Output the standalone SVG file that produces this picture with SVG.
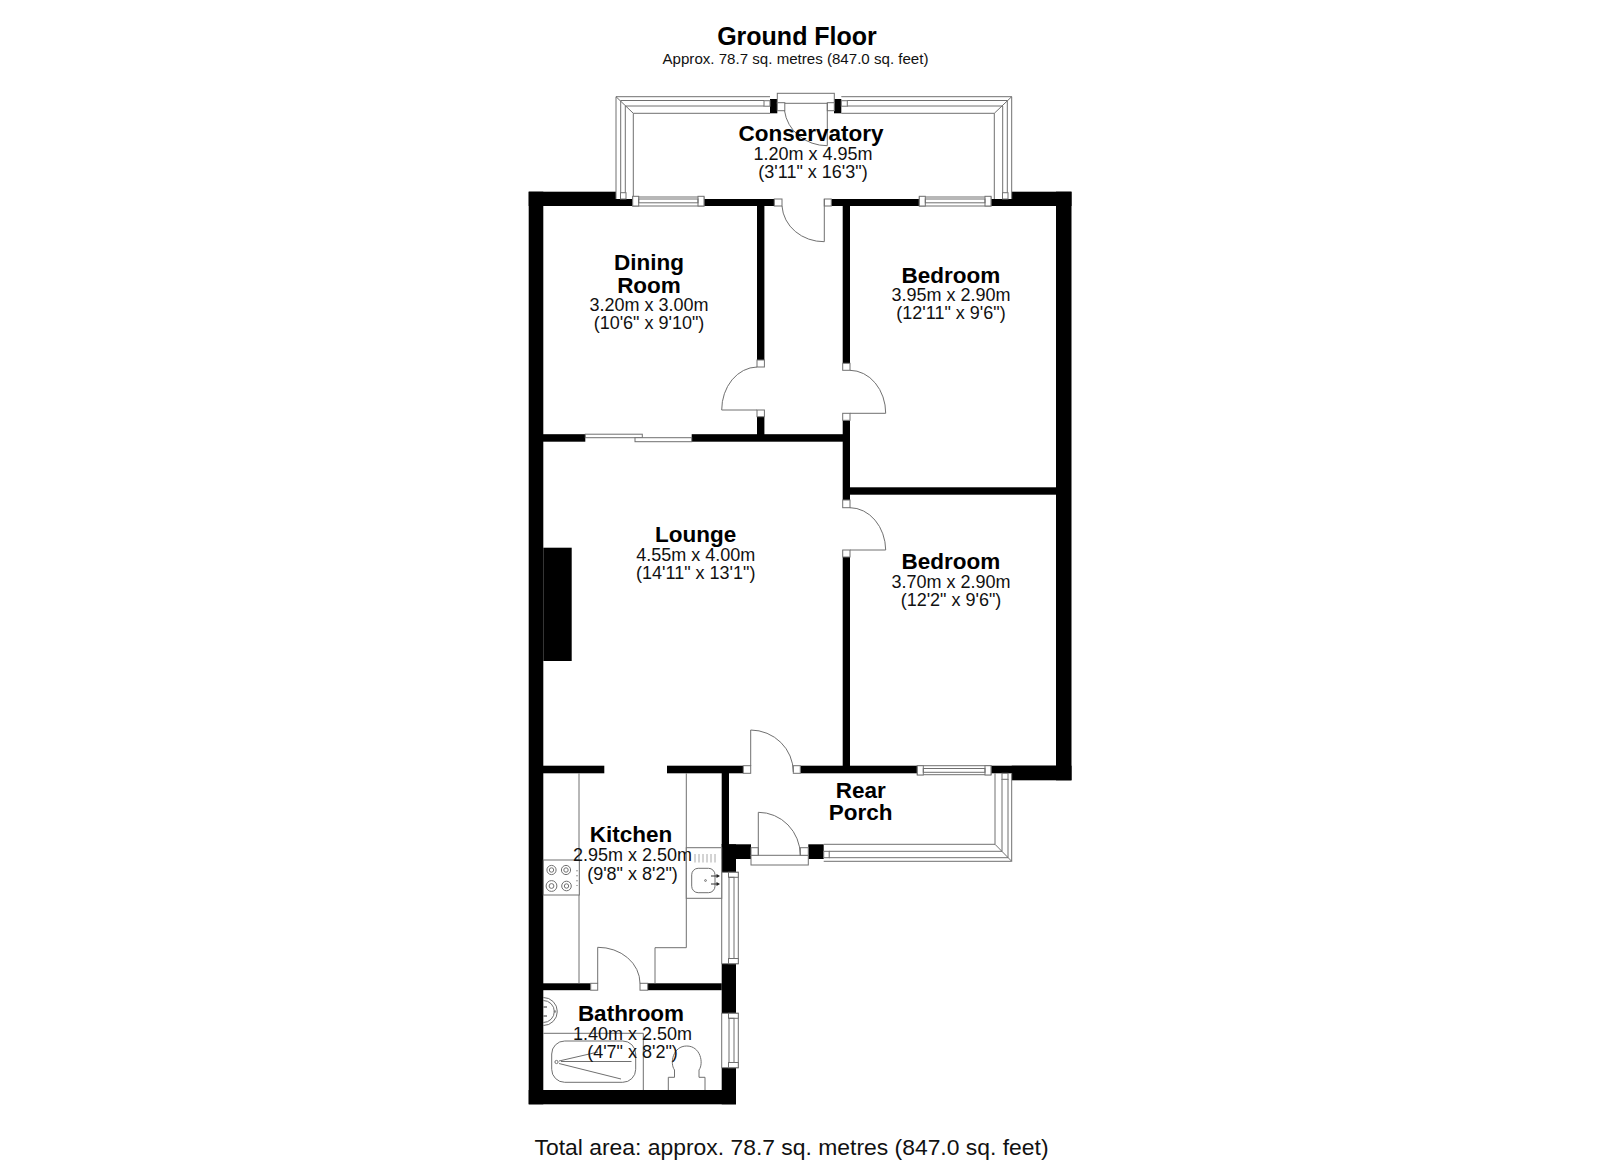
<svg xmlns="http://www.w3.org/2000/svg" width="1600" height="1163" viewBox="0 0 1600 1163">
<style>
text{font-family:"Liberation Sans",Arial,sans-serif;text-anchor:middle;fill:#111}
.n{font-size:22.5px;font-weight:bold;fill:#000}
.d{font-size:18px}
.w{fill:#000}
.l{fill:none;stroke:#707070;stroke-width:1}
.f{fill:#fff;stroke:#707070;stroke-width:1}
</style>
<rect width="1600" height="1163" fill="#fff"/>
<g id="walls">
<rect class="w" x="528.7" y="191.7" width="14.6" height="912.6"/>
<rect class="w" x="528.7" y="191.7" width="87.3" height="14.3"/>
<rect class="w" x="616" y="199" width="17" height="7"/>
<rect class="w" x="704" y="199" width="71" height="7"/>
<rect class="w" x="831.3" y="199" width="88" height="7"/>
<rect class="w" x="991" y="199" width="21" height="7"/>
<rect class="w" x="1011.7" y="191.7" width="59.8" height="14.3"/>
<rect class="w" x="1056" y="191.7" width="15.5" height="588.6"/>
<rect class="w" x="757" y="206" width="7.4" height="154"/>
<rect class="w" x="757" y="416.7" width="7.4" height="20"/>
<rect class="w" x="842.7" y="206" width="7.3" height="157.3"/>
<rect class="w" x="842.7" y="420.3" width="7.3" height="79.7"/>
<rect class="w" x="842.7" y="557" width="7.3" height="212"/>
<rect class="w" x="850" y="487.3" width="207" height="7.4"/>
<rect class="w" x="543" y="434.2" width="42.3" height="7.5"/>
<rect class="w" x="691.7" y="434.2" width="158.3" height="7.5"/>
<rect class="w" x="543.3" y="547.7" width="28.4" height="113.3"/>
<rect class="w" x="543" y="765.7" width="61.3" height="7.6"/>
<rect class="w" x="667" y="765.7" width="76.3" height="7.6"/>
<rect class="w" x="800.3" y="765.7" width="117" height="7.6"/>
<rect class="w" x="991" y="765.7" width="66" height="7.6"/>
<rect class="w" x="1011.7" y="765.7" width="59.8" height="14.6"/>
<rect class="w" x="721.7" y="773" width="7.3" height="72"/>
<rect class="w" x="721.7" y="844.3" width="29.3" height="14.7"/>
<rect class="w" x="721.7" y="844.3" width="14.3" height="28"/>
<rect class="w" x="808.3" y="844.3" width="15.4" height="14.7"/>
<rect class="w" x="721.7" y="963.7" width="14.3" height="49.6"/>
<rect class="w" x="721.7" y="1067.7" width="14.3" height="36.6"/>
<rect class="w" x="543" y="983.3" width="47.7" height="6.9"/>
<rect class="w" x="647.7" y="983.3" width="74" height="6.9"/>
<rect class="w" x="528.7" y="1090" width="207.3" height="14.3"/>
<rect class="w" x="770" y="99" width="7.3" height="14.3"/>
<rect class="w" x="834" y="99" width="7.3" height="14.3"/>
</g>
<g id="conservatory-glazing">
<path class="l" d="M616 199V96.7H770M633.3 199V113.3H770M616 96.7L633.3 113.3M620.7 193V100.5H764M625.3 193V106H764"/>
<rect class="f" x="620.5" y="192.7" width="5.5" height="6.3"/>
<rect class="f" x="764" y="100.7" width="6" height="5.5"/>
<path class="l" d="M1011.7 199V96.7H841.3M994.3 199V113.3H841.3M1011.7 96.7L994.3 113.3M1007.3 193V100.5H847M1002.7 193V106H847"/>
<rect class="f" x="1002.5" y="192.7" width="5.5" height="6.3"/>
<rect class="f" x="841.3" y="100.7" width="6" height="5.5"/>
</g>
<g id="porch-glazing">
<path class="l" d="M1011.7 773.3V861.3H823.7M995 773.3V844.3H823.7M1011.7 861.3L995 844.3M1008 779V857.7H829M1002 779V851.3H829"/>
<rect class="f" x="1002" y="773.3" width="6" height="6"/>
<rect class="f" x="823.7" y="851.3" width="5.5" height="6.4"/>
</g>
<g id="windows">
<rect class="f" x="632.7" y="197" width="71.3" height="9"/><rect class="f" x="632.7" y="196.3" width="6" height="9.7"/><rect class="f" x="698" y="196.3" width="6" height="9.7"/><rect class="l" x="638.7" y="199" width="59.3" height="3.8"/>
<rect class="f" x="919.3" y="197" width="71.7" height="9"/><rect class="f" x="919.3" y="196.3" width="6" height="9.7"/><rect class="f" x="985" y="196.3" width="6" height="9.7"/><rect class="l" x="925.3" y="199" width="59.7" height="3.8"/>
<rect class="f" x="917.3" y="765.7" width="73.7" height="9"/><rect class="f" x="917.3" y="765.7" width="6" height="9.3"/><rect class="f" x="985" y="765.7" width="6" height="9.3"/><rect class="l" x="923.3" y="768.5" width="61.7" height="3.8"/>
<rect class="f" x="721.7" y="872.3" width="16.6" height="91.4"/><rect class="f" x="728.5" y="872.3" width="9.8" height="5"/><rect class="f" x="728.5" y="958.5" width="9.8" height="5.2"/><rect class="l" x="729" y="877.3" width="5" height="81.2"/>
<rect class="f" x="721.7" y="1013.3" width="16.6" height="54.4"/><rect class="f" x="728.5" y="1013.3" width="9.8" height="5"/><rect class="f" x="728.5" y="1062.5" width="9.8" height="5.2"/><rect class="l" x="729" y="1018.3" width="5" height="44.2"/>
<rect class="f" x="585.3" y="434.2" width="57" height="3.5"/><rect class="f" x="635" y="437.7" width="56.7" height="4"/>
</g>
<g id="doors">
<rect class="f" x="777.3" y="93.3" width="57" height="10"/><rect class="f" x="777.3" y="102.7" width="7.5" height="8"/><rect class="f" x="827.3" y="102.7" width="7" height="8"/>
<path class="l" d="M827.3 103V145.7A43 40 0 0 1 784.5 110.7"/>
<rect class="f" x="774.3" y="199" width="7.7" height="7"/><rect class="f" x="824.3" y="199" width="7" height="7"/>
<path class="l" d="M824.3 199V241.7A42 38 0 0 1 782 206"/>
<rect class="f" x="757" y="360" width="7.4" height="7"/><rect class="f" x="757" y="410" width="7.4" height="6.7"/>
<path class="l" d="M757 410H721.7A36 43 0 0 1 757 367"/>
<rect class="f" x="842.7" y="363.3" width="7.3" height="7"/><rect class="f" x="842.7" y="413.3" width="7.3" height="7"/>
<path class="l" d="M850 413.3H885.7A36 43 0 0 0 850 370.3"/>
<rect class="f" x="842.7" y="500" width="7.3" height="7.7"/><rect class="f" x="842.7" y="550" width="7.3" height="7"/>
<path class="l" d="M850 550H885.7A36 43 0 0 0 850 507.7"/>
<rect class="f" x="743.3" y="765.7" width="7.4" height="7.6"/><rect class="f" x="793.3" y="765.7" width="7" height="7.6"/>
<path class="l" d="M750.7 766V730A43 42 0 0 1 793.3 772"/>
<rect class="f" x="751" y="855.3" width="57.3" height="9.7"/><rect class="f" x="751" y="847.7" width="7.3" height="7.6"/><rect class="f" x="800.3" y="847.7" width="8" height="7.6"/>
<path class="l" d="M758.3 855.3V812.3A42 43 0 0 1 800.3 855.3"/>
<rect class="f" x="590.7" y="983.3" width="7" height="6.9"/><rect class="f" x="640" y="983.3" width="7.7" height="6.9"/>
<path class="l" d="M597.7 983.3V947.3A42 36 0 0 1 640 983.3"/>
</g>
<g id="kitchen-fittings">
<path class="l" d="M579 773.3V983.3M686.3 773.3V947.7H655V983.3"/>
<rect class="f" x="543.3" y="860" width="36" height="35"/>
<circle class="l" cx="551.5" cy="870" r="4.6"/><circle class="l" cx="551.5" cy="870" r="2.2"/>
<circle class="l" cx="566" cy="870" r="4.6"/><circle class="l" cx="566" cy="870" r="2.2"/>
<circle class="l" cx="551.5" cy="886" r="5.4"/><circle class="l" cx="551.5" cy="886" r="2.4"/>
<circle class="l" cx="566.5" cy="886" r="4.8"/><circle class="l" cx="566.5" cy="886" r="2.2"/>
<path class="l" stroke-dasharray="1.4 3.6" d="M577 870V886"/>
<rect class="f" x="686.3" y="847.7" width="35.4" height="50.6"/>
<path class="l" d="M695 854V862.5M699 854V862.5M703 854V862.5M707 854V862.5M711 854V862.5M715 854V862.5" stroke-opacity="0.6"/>
<rect class="l" x="691.7" y="868.3" width="23.3" height="24.4" rx="6.5"/>
<circle class="l" cx="705.5" cy="880.5" r="0.9"/>
<path d="M711 876H717M711 884H717" stroke="#333" stroke-width="1.2" fill="none"/>
<path d="M720 876L716.5 874V878ZM720 884L716.5 882V886Z" fill="#222"/>
</g>
<g id="bathroom-fittings">
<path class="l" d="M543.3 997.5A14 14 0 0 1 543.3 1025.5M543.3 1000.5A11 11 0 0 1 543.3 1022.5"/>
<path d="M543.5 1007H547M543.5 1016H547" stroke="#333" fill="none"/>
<circle class="l" cx="555" cy="1011.5" r="0.8"/>
<path class="l" d="M543.3 1033.3H643.3V1090"/>
<rect class="l" x="551.7" y="1041" width="84" height="41.3" rx="13"/>
<circle class="l" cx="556.5" cy="1062" r="1.6"/>
<path class="l" d="M559 1061L598 1052M559 1063.5L621 1079M561 1061.5H631.5"/>
<path class="l" d="M668.3 1090V1077.3H674.5V1070C669.5 1063 673 1046 686.7 1046S704 1063 699 1070V1077.3H705V1090"/>
</g>
<g id="labels">
<text x="797" y="44.5" style="font-size:25px;font-weight:bold;fill:#000">Ground Floor</text>
<text x="795.5" y="63.5" style="font-size:15.1px">Approx. 78.7 sq. metres (847.0 sq. feet)</text>
<text class="n" x="811" y="141">Conservatory</text><text class="d" x="813" y="160">1.20m x 4.95m</text><text class="d" x="813" y="177.5">(3'11" x 16'3")</text>
<text class="n" x="649" y="270">Dining</text><text class="n" x="649" y="292.5">Room</text><text class="d" x="649" y="311">3.20m x 3.00m</text><text class="d" x="649" y="329">(10'6" x 9'10")</text>
<text class="n" x="951" y="283">Bedroom</text><text class="d" x="951" y="301">3.95m x 2.90m</text><text class="d" x="951" y="319">(12'11" x 9'6")</text>
<text class="n" x="695.7" y="542">Lounge</text><text class="d" x="695.7" y="561">4.55m x 4.00m</text><text class="d" x="695.7" y="579">(14'11" x 13'1")</text>
<text class="n" x="951" y="569">Bedroom</text><text class="d" x="951" y="588">3.70m x 2.90m</text><text class="d" x="951" y="606">(12'2" x 9'6")</text>
<text class="n" x="860.7" y="797.5">Rear</text><text class="n" x="860.7" y="820">Porch</text>
<text class="n" x="631" y="842">Kitchen</text><text class="d" x="632.5" y="861">2.95m x 2.50m</text><text class="d" x="632.5" y="880">(9'8" x 8'2")</text>
<text class="n" x="631" y="1021">Bathroom</text><text class="d" x="632.5" y="1040">1.40m x 2.50m</text><text class="d" x="632.5" y="1058">(4'7" x 8'2")</text>
<text x="791.5" y="1155" style="font-size:22.9px">Total area: approx. 78.7 sq. metres (847.0 sq. feet)</text>
</g>
</svg>
